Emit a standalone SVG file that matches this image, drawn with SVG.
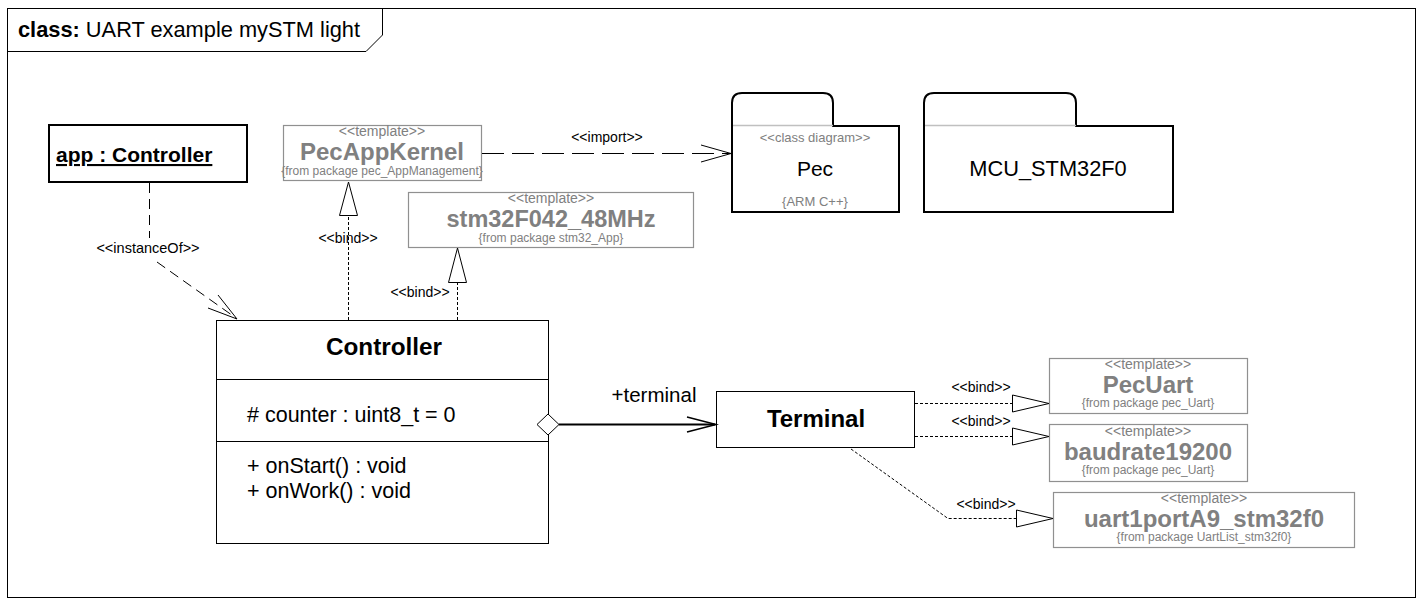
<svg xmlns="http://www.w3.org/2000/svg" width="1424" height="609" viewBox="0 0 1424 609">
<style>
text{font-family:"Liberation Sans",Arial,sans-serif;fill:#000}
.b{font-weight:bold}
.g{fill:#808080}
.tpl{fill:#fff;stroke:#909090;stroke-width:1.2}
.box{fill:#fff;stroke:#000;stroke-width:1}
.pkg{fill:#fff;stroke:#000;stroke-width:2}
.dot{fill:none;stroke:#000;stroke-width:1;stroke-dasharray:3,2}
.tri{fill:#fff;stroke:#000;stroke-width:1}
.open{fill:none;stroke:#000;stroke-width:1}
.lbl{font-size:14px}
.st{font-size:14px}
.fp{font-size:12px}
</style>
<rect x="0" y="0" width="1424" height="609" fill="#fff"/>
<g id="frame">
<rect x="7.5" y="8.5" width="1408" height="589" fill="none" stroke="#000"/>
<path d="M7.5 51.5 H366 L382.5 35 V8.5" fill="none" stroke="#000"/>
<text x="18" y="37" style="font-size:21.8px"><tspan class="b">class:</tspan> UART example mySTM light</text>
</g>
<g id="app">
<rect x="49" y="125" width="198" height="57" fill="#fff" stroke="#000" stroke-width="2"/>
<text x="56" y="162" class="b" style="font-size:21px;text-decoration:underline">app : Controller</text>
</g>
<g id="PecAppKernel">
<rect class="tpl" x="283.5" y="125.5" width="198" height="55"/>
<text x="382" y="136" text-anchor="middle" class="g st">&lt;&lt;template&gt;&gt;</text>
<text x="382" y="160" text-anchor="middle" class="g b" style="font-size:24px">PecAppKernel</text>
<text x="382" y="175" text-anchor="middle" class="g fp">{from package pec_AppManagement}</text>
</g>
<g id="stm32F042_48MHz">
<rect class="tpl" x="408.5" y="192.5" width="285" height="55"/>
<text x="551" y="203" text-anchor="middle" class="g st">&lt;&lt;template&gt;&gt;</text>
<text x="551" y="227" text-anchor="middle" class="g b" style="font-size:23.5px">stm32F042_48MHz</text>
<text x="551" y="242" text-anchor="middle" class="g fp">{from package stm32_App}</text>
</g>
<g id="Pec">
<path class="pkg" d="M732 126 V103 Q732 93 742 93 H823 Q833 93 833 103 V126 H899 V212 H732 Z"/>
<line x1="733" y1="125.5" x2="833" y2="125.5" stroke="#c0c0c0" stroke-width="1.5"/>
<text x="815" y="142" text-anchor="middle" class="g" style="font-size:13px">&lt;&lt;class diagram&gt;&gt;</text>
<text x="815" y="176" text-anchor="middle" style="font-size:21px">Pec</text>
<text x="815" y="206" text-anchor="middle" class="g" style="font-size:13px">{ARM C++}</text>
</g>
<g id="MCU_STM32F0">
<path class="pkg" d="M924 126 V103 Q924 93 934 93 H1066 Q1076 93 1076 103 V126 H1173 V212 H924 Z"/>
<line x1="925" y1="125.5" x2="1076" y2="125.5" stroke="#c0c0c0" stroke-width="1.5"/>
<text x="1048" y="176" text-anchor="middle" style="font-size:21.8px">MCU_STM32F0</text>
</g>
<g id="Controller">
<rect class="box" x="216.5" y="320.5" width="332" height="223"/>
<line x1="216" y1="379.5" x2="548" y2="379.5" stroke="#000"/>
<line x1="216" y1="441.5" x2="548" y2="441.5" stroke="#000"/>
<text x="384" y="355" text-anchor="middle" class="b" style="font-size:24.3px">Controller</text>
<text x="247" y="422" style="font-size:21.5px"># counter : uint8_t = 0</text>
<text x="247" y="473" style="font-size:21.5px">+ onStart() : void</text>
<text x="247" y="498" style="font-size:21.5px">+ onWork() : void</text>
</g>
<g id="Terminal">
<rect class="box" x="716.5" y="391.5" width="198" height="56"/>
<text x="816" y="427" text-anchor="middle" class="b" style="font-size:24px">Terminal</text>
</g>
<g id="PecUart">
<rect class="tpl" x="1049.5" y="358.5" width="198" height="55"/>
<text x="1148" y="368.5" text-anchor="middle" class="g st">&lt;&lt;template&gt;&gt;</text>
<text x="1148" y="393" text-anchor="middle" class="g b" style="font-size:24px">PecUart</text>
<text x="1148" y="407" text-anchor="middle" class="g fp">{from package pec_Uart}</text>
</g>
<g id="baudrate19200">
<rect class="tpl" x="1049.5" y="424.5" width="198" height="57"/>
<text x="1148" y="435.5" text-anchor="middle" class="g st">&lt;&lt;template&gt;&gt;</text>
<text x="1148" y="460" text-anchor="middle" class="g b" style="font-size:24px">baudrate19200</text>
<text x="1148" y="474" text-anchor="middle" class="g fp">{from package pec_Uart}</text>
</g>
<g id="uart1portA9_stm32f0">
<rect class="tpl" x="1053.5" y="492.5" width="301" height="55"/>
<text x="1204" y="503" text-anchor="middle" class="g st">&lt;&lt;template&gt;&gt;</text>
<text x="1204" y="527" text-anchor="middle" class="g b" style="font-size:24px">uart1portA9_stm32f0</text>
<text x="1204" y="541" text-anchor="middle" class="g fp">{from package UartList_stm32f0}</text>
</g>
<g id="connectors">
<line x1="149.5" y1="183" x2="149.5" y2="238" stroke="#000" stroke-dasharray="10,6"/>
<text x="148" y="253" text-anchor="middle" style="font-size:14.5px">&lt;&lt;instanceOf&gt;&gt;</text>
<line x1="157" y1="262" x2="236" y2="318" stroke="#000" stroke-dasharray="10,6"/>
<path class="open" d="M218 295 L237 319 L208 308"/>
<line x1="482" y1="153.5" x2="730" y2="153.5" stroke="#000" stroke-dasharray="22,8"/>
<path class="open" d="M701 145 L731 153.5 L701 162"/>
<text x="607" y="142" text-anchor="middle" class="lbl">&lt;&lt;import&gt;&gt;</text>
<line class="dot" x1="348.5" y1="320" x2="348.5" y2="215"/>
<path class="tri" d="M339.5 215.5 L348.5 182 L357.5 215.5 Z"/>
<text x="348" y="243" text-anchor="middle" class="lbl">&lt;&lt;bind&gt;&gt;</text>
<line class="dot" x1="457.5" y1="320" x2="457.5" y2="282"/>
<path class="tri" d="M448.5 282.5 L457.5 248 L466.5 282.5 Z"/>
<text x="420" y="297" text-anchor="middle" class="lbl">&lt;&lt;bind&gt;&gt;</text>
<path d="M537 424.5 L548 414 L559 424.5 L548 435 Z" fill="#fff" stroke="#000"/>
<line x1="559" y1="424.5" x2="715" y2="424.5" stroke="#000" stroke-width="2"/>
<path d="M687 417 L716 424.5 L687 432" fill="none" stroke="#000" stroke-width="1.5"/>
<text x="654" y="402" text-anchor="middle" style="font-size:20.5px">+terminal</text>
<line class="dot" x1="915" y1="403.5" x2="1012" y2="403.5"/>
<path class="tri" d="M1012.5 395 L1049 403.5 L1012.5 412 Z"/>
<text x="981" y="392" text-anchor="middle" class="lbl">&lt;&lt;bind&gt;&gt;</text>
<line class="dot" x1="915" y1="436.5" x2="1012" y2="436.5"/>
<path class="tri" d="M1012.5 428 L1049 436.5 L1012.5 445 Z"/>
<text x="981" y="426" text-anchor="middle" class="lbl">&lt;&lt;bind&gt;&gt;</text>
<path class="dot" d="M851 449 L948 518.5 H1016"/>
<path class="tri" d="M1016.5 510 L1053 518.5 L1016.5 527 Z"/>
<text x="986" y="509" text-anchor="middle" class="lbl">&lt;&lt;bind&gt;&gt;</text>
</g>
</svg>
